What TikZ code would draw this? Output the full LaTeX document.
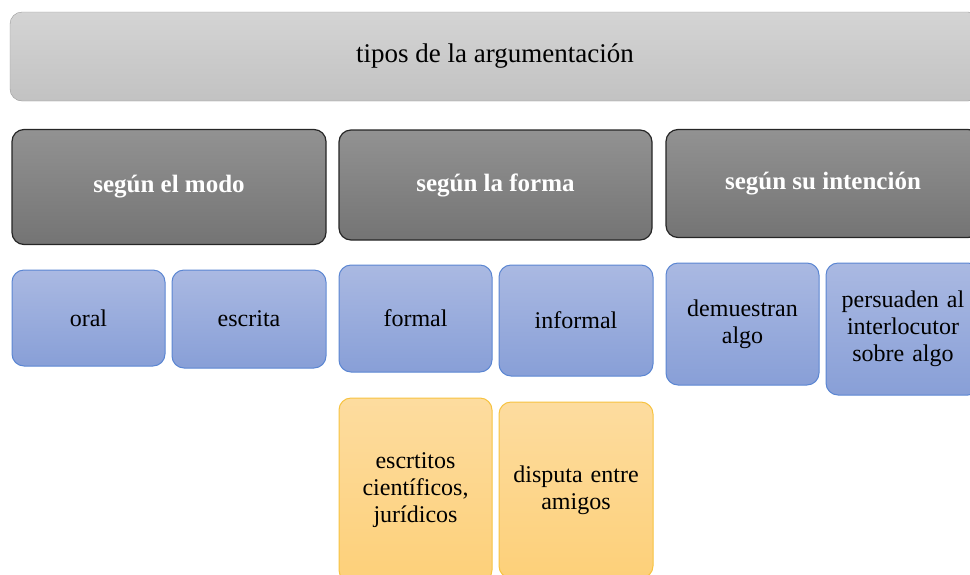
\documentclass[tikz,border=0pt]{standalone}
\usepackage{fontspec}
\setmainfont{Liberation Serif}
\definecolor{titletop}{HTML}{D4D4D4}
\definecolor{titlebot}{HTML}{C2C2C2}
\definecolor{headtop}{HTML}{929292}
\definecolor{headbot}{HTML}{747474}
\definecolor{bluetop}{HTML}{AAB9E2}
\definecolor{bluebot}{HTML}{889FD7}
\definecolor{blueline}{HTML}{5B86D2}
\definecolor{yeltop}{HTML}{FDDC9F}
\definecolor{yelbot}{HTML}{FDD079}
\definecolor{yelline}{HTML}{F7C340}
\tikzset{
  card/.style={rounded corners=12pt, inner sep=0pt, align=center,
    font=\fontsize{24}{27}\selectfont},
  titlebox/.style={card, draw=gray!80, top color=titletop, bottom color=titlebot,
    font=\fontsize{27}{30}\selectfont},
  headbox/.style={card, draw=black!85, line width=1.2pt, top color=headtop,
    bottom color=headbot, text=white, font=\fontsize{25}{28}\selectfont\bfseries},
  leafbox/.style={card, draw=blueline, line width=1pt, top color=bluetop,
    bottom color=bluebot},
  examplebox/.style={card, draw=yelline, line width=1pt, top color=yeltop,
    bottom color=yelbot},
}
\begin{document}
\begin{tikzpicture}[x=1pt, y=-1pt]
  \useasboundingbox (0,0) rectangle (970,574);
  \begin{scope}
    \clip (0,0) rectangle (970,574);
    % cabecera
    \node [titlebox, minimum width=970pt, minimum height=89pt] (tipos) at (495,56.5)
      {tipos de la argumentaci\'on};
    % criterios
    \node [headbox, minimum width=314pt, minimum height=115pt] (modo) at (169,187)
      {seg\'un el modo};
    \node [headbox, minimum width=313pt, minimum height=110pt] (forma) at (495.5,185)
      {seg\'un la forma};
    \node [headbox, minimum width=314pt, minimum height=108pt] (intencion) at (823,183.5)
      {seg\'un su intenci\'on};
    % tipos
    \node [leafbox, minimum width=153pt, minimum height=96pt] (oral) at (88.5,318)
      {oral};
    \node [leafbox, minimum width=154pt, minimum height=98pt] (escrita) at (249,319)
      {escrita};
    \node [leafbox, minimum width=153pt, minimum height=107pt] (formal) at (415.5,318.5)
      {formal};
    \node [leafbox, minimum width=154pt, minimum height=111pt] (informal) at (576,320.5)
      {informal};
    \node [leafbox, minimum width=153pt, minimum height=122pt, text width=140pt] (demuestran)
      at (742.5,324) {demuestran\\algo};
    \node [leafbox, minimum width=154pt, minimum height=132pt, text width=150pt] (persuaden)
      at (903,329) {persuaden al\\interlocutor\\sobre algo};
    % ejemplos
    \node [examplebox, minimum width=153pt, minimum height=184pt, text width=140pt]
      (cientificos) at (415.5,490) {escrtitos\\cient\'ificos,\\jur\'idicos};
    \node [examplebox, minimum width=154pt, minimum height=176pt, text width=150pt]
      (disputa) at (576,490) {disputa entre\\amigos};
  \end{scope}
\end{tikzpicture}
\end{document}
